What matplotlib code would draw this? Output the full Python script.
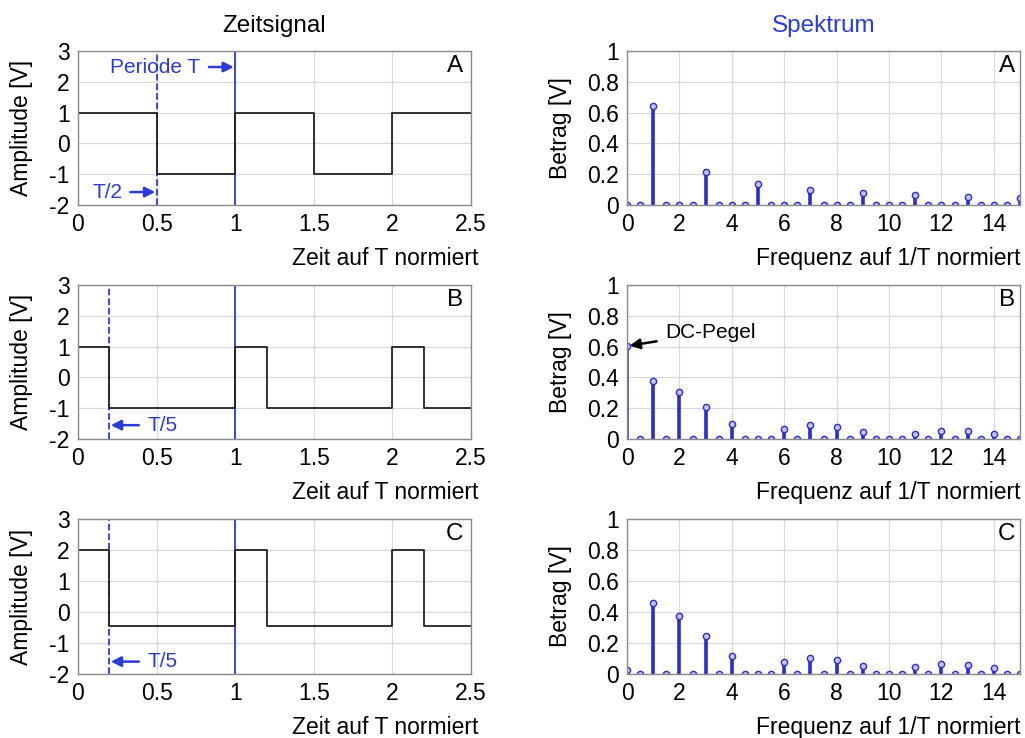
import numpy as np
import matplotlib.pyplot as plt

plt.rcParams['font.family'] = ['Liberation Sans', 'DejaVu Sans']
plt.rcParams['axes.unicode_minus'] = False

BLUE = '#2b3bd8'
STEM = '#2c2cd0'
GRID = '#d8d8e0'

# Zeitsignale: Umschaltzeitpunkte und Pegel je Abschnitt
edges_a = [0, 0.5, 1, 1.5, 2, 2.5]
levels_a = [1, -1, 1, -1, 1]
edges_b = [0, 0.2, 1, 1.2, 2, 2.2, 2.5]
levels_b = [1, -1, 1, -1, 1, -1]
edges_c = [0, 0.2, 1, 1.2, 2, 2.2, 2.5]
levels_c = [2, -0.46, 2, -0.46, 2, -0.46]

# Spektren (Betrag) bei f = 0, 0.5, 1, ..., 15
freq = np.arange(0, 15.5, 0.5)
spec_a = [0, 0, 0.64, 0, 0, 0, 0.215, 0, 0, 0, 0.134, 0, 0, 0, 0.095, 0,
          0, 0, 0.078, 0, 0, 0, 0.063, 0, 0, 0, 0.054, 0, 0, 0, 0.048]
spec_b = [0.605, 0, 0.374, 0, 0.305, 0, 0.207, 0, 0.097, 0, 0, 0, 0.065, 0,
          0.089, 0, 0.08, 0, 0.045, 0, 0, 0, 0.035, 0, 0.054, 0, 0.05, 0,
          0.032, 0, 0]
spec_c = [0.024, 0, 0.455, 0, 0.371, 0, 0.247, 0, 0.117, 0, 0, 0, 0.078, 0,
          0.106, 0, 0.093, 0, 0.054, 0, 0, 0, 0.043, 0, 0.063, 0, 0.061, 0,
          0.039, 0, 0]

letters = ['A', 'B', 'C']
half_marks = [0.5, 0.2, 0.2]
signals = [(edges_a, levels_a), (edges_b, levels_b), (edges_c, levels_c)]
spectra = [spec_a, spec_b, spec_c]

fig = plt.figure(figsize=(10.25, 7.38), dpi=100)
W, H = 1025, 738
rows = [(51, 205), (285, 439), (519, 674)]


def style(ax):
    ax.grid(True, color=GRID, lw=0.9)
    ax.set_axisbelow(True)
    for s in ax.spines.values():
        s.set_color('#8a8a8a')
        s.set_linewidth(1.0)
    ax.tick_params(length=0, labelsize=16.5, pad=6)


for i, (top, bot) in enumerate(rows):
    h = (bot - top) / H
    y0 = 1 - bot / H

    # Zeitsignal
    ax = fig.add_axes([78 / W, y0, 393 / W, h])
    edges, levels = signals[i]
    xs = np.concatenate([[edges[0]], np.repeat(edges, 2)[1:-1]])
    ys = np.concatenate([[levels[-1]], np.repeat(levels, 2)])
    ax.axvline(half_marks[i], color=BLUE, ls='--', lw=1.3)
    ax.axvline(1, color=BLUE, lw=1.3)
    ax.plot(xs, ys, color='#222222', lw=1.3)
    ax.set_xlim(0, 2.5)
    ax.set_ylim(-2, 3)
    ax.set_xticks([0, 0.5, 1, 1.5, 2, 2.5])
    ax.set_xticklabels(['0', '0.5', '1', '1.5', '2', '2.5'])
    ax.set_yticks([-2, -1, 0, 1, 2, 3])
    style(ax)
    ax.set_ylabel('Amplitude [V]', fontsize=16.5)
    ax.yaxis.set_label_coords(-0.115, 0.5)
    ax.set_xlabel('Zeit auf T normiert', fontsize=16.5, ha='right')
    ax.xaxis.set_label_coords(1.018, -0.27)
    ax.text(0.98, 0.9, letters[i], transform=ax.transAxes, ha='right',
            va='center', fontsize=17.5)
    arrow = dict(arrowstyle='-|>', color=BLUE, lw=1.8, mutation_scale=15,
                 shrinkA=4, shrinkB=1)
    if i == 0:
        ax.set_title('Zeitsignal', fontsize=17.5, pad=14)
        ax.annotate('Periode T', xy=(1, 2.48), xytext=(0.78, 2.48),
                    ha='right', va='center', color=BLUE, fontsize=15,
                    arrowprops=arrow)
        ax.annotate('T/2', xy=(0.5, -1.58), xytext=(0.28, -1.58),
                    ha='right', va='center', color=BLUE, fontsize=15,
                    arrowprops=arrow)
    else:
        yy = -1.55 if i == 1 else -1.6
        ax.annotate('T/5', xy=(0.2, yy), xytext=(0.44, yy),
                    ha='left', va='center', color=BLUE, fontsize=15,
                    arrowprops=arrow)

    # Spektrum
    ax2 = fig.add_axes([627 / W, y0, 393 / W, h])
    ml, sl, bl = ax2.stem(freq, spectra[i], basefmt=' ')
    plt.setp(sl, color=STEM, lw=2.6)
    plt.setp(ml, marker='o', markersize=4.5, markerfacecolor='#c4c4f2',
             markeredgecolor=STEM, markeredgewidth=1.0)
    ax2.set_xlim(0, 15)
    ax2.set_ylim(0, 1)
    ax2.set_xticks(range(0, 15, 2))
    ax2.set_yticks([0, 0.2, 0.4, 0.6, 0.8, 1])
    ax2.set_yticklabels(['0', '0.2', '0.4', '0.6', '0.8', '1'])
    style(ax2)
    ax2.set_ylabel('Betrag [V]', fontsize=16.5)
    ax2.yaxis.set_label_coords(-0.14, 0.5)
    ax2.set_xlabel('Frequenz auf 1/T normiert', fontsize=16.5, ha='right')
    ax2.xaxis.set_label_coords(1.0, -0.27)
    ax2.text(0.987, 0.9, letters[i], transform=ax2.transAxes, ha='right',
             va='center', fontsize=17.5)
    if i == 0:
        ax2.set_title('Spektrum', fontsize=17.5, pad=14, color=BLUE)
    if i == 1:
        ax2.annotate('DC-Pegel', xy=(0.05, spec_b[0]), xytext=(1.45, 0.69),
                     ha='left', va='center', color='black', fontsize=15,
                     arrowprops=dict(arrowstyle='-|>', color='black', lw=1.8,
                                     mutation_scale=15, shrinkA=4, shrinkB=1))

fig.savefig('out.png', dpi=100)
